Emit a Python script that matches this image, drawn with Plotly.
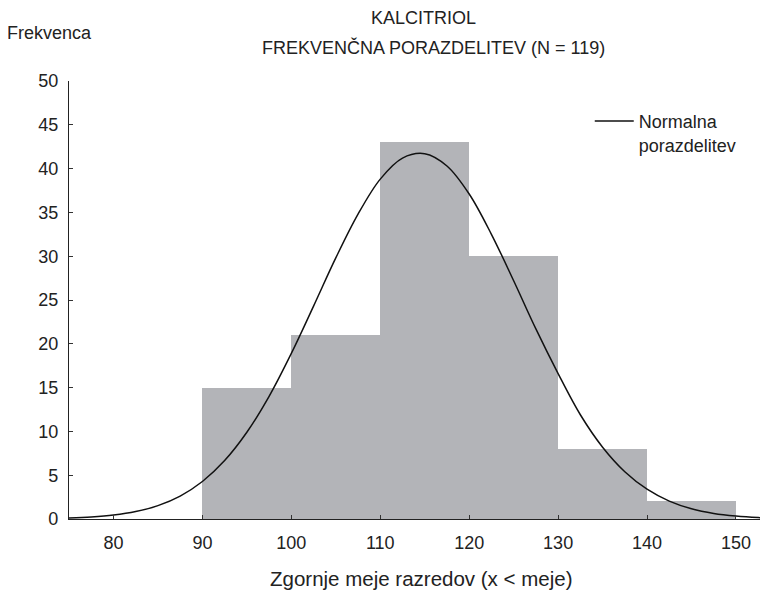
import plotly.graph_objects as go

# Histogram data (upper class limits, counts)
bin_left = [90, 100, 110, 120, 130, 140]
bin_width = [10, 10, 10, 10, 10, 10]
counts = [15, 21, 43, 30, 8, 2]

# Normal curve values
curve_x = [75, 77.5, 80, 82.5, 85, 87.5, 90, 92.5, 95, 97.5, 100, 102.5, 105, 107.5,
           110, 112.5, 115, 117.5, 120, 122.5, 125, 127.5, 130, 132.5, 135, 137.5,
           140, 142.5, 145, 147.5, 150, 152.5, 153.5]
curve_y = [0.11, 0.23, 0.45, 0.85, 1.53, 2.62, 4.28, 6.67, 9.9, 14.0, 18.9, 24.3, 29.8, 34.8,
           38.8, 41.2, 41.7, 40.3, 37.1, 32.5, 27.2, 21.7, 16.6, 11.9, 8.2, 5.4,
           3.4, 2.04, 1.16, 0.63, 0.33, 0.16, 0.13]

x_ticks = [80, 90, 100, 110, 120, 130, 140, 150]
y_ticks = [0, 5, 10, 15, 20, 25, 30, 35, 40, 45, 50]

FONT = "Liberation Sans, Arial, sans-serif"
TXT = "#222222"

# page body has an 8px margin; plot area lands at x 69..768, y 81..519
W, H = 760, 585
ML, MR, MT, MB = 61, 0, 73, 74

fig = go.Figure()
fig.add_trace(go.Bar(
    x=bin_left, y=counts, width=bin_width, offset=0,
    marker=dict(color="#b3b4b8", line=dict(width=0)),
    showlegend=False, hoverinfo="skip",
))
fig.add_trace(go.Scatter(
    x=curve_x, y=curve_y, mode="lines", line=dict(color="#111111", width=1.5, shape="spline"),
    name="Normalna<br>porazdelitev",
))

fig.update_layout(
    width=W, height=H,
    margin=dict(l=ML, r=MR, t=MT, b=MB),
    paper_bgcolor="white", plot_bgcolor="white",
    font=dict(family=FONT, size=18, color=TXT),
    bargap=0,
    showlegend=True,
    legend=dict(x=0.745, y=0.95, xanchor="left", yanchor="top",
                bgcolor="rgba(0,0,0,0)", font=dict(size=18, color=TXT),
                valign="top", tracegroupgap=0, itemwidth=39),
    xaxis=dict(range=[75, 153.6], tickvals=x_ticks, ticks="inside", ticklen=4,
               tickcolor="#333", showline=True, linecolor="#222", linewidth=1.2,
               showgrid=False, zeroline=False, tickfont=dict(size=18, color=TXT),
               ticklabelstandoff=7),
    yaxis=dict(range=[0, 50], tickvals=y_ticks, ticks="inside", ticklen=4,
               tickcolor="#333", showline=True, linecolor="#222", linewidth=1.2,
               showgrid=False, zeroline=False, tickfont=dict(size=18, color=TXT),
               ticklabelstandoff=6),
)

H_PLOT = H - MT - MB
W_PLOT = W - ML - MR
def py(pix):
    return (519 - pix) / H_PLOT
def px(pix):
    return (pix - 69) / W_PLOT

def label(text, xc, yc, size=18):
    fig.add_annotation(text=text, x=px(xc), y=py(yc), xref="paper", yref="paper",
                       xanchor="center", yanchor="middle", showarrow=False,
                       font=dict(size=size, color=TXT, family=FONT))

label("KALCITRIOL", 423, 18)
label("FREKVENČNA PORAZDELITEV (N = 119)", 433, 47)
label("Frekvenca", 49, 33)
label("Zgornje meje razredov (x < meje)", 422, 578, size=20.5)

fig.write_html("out.html")
